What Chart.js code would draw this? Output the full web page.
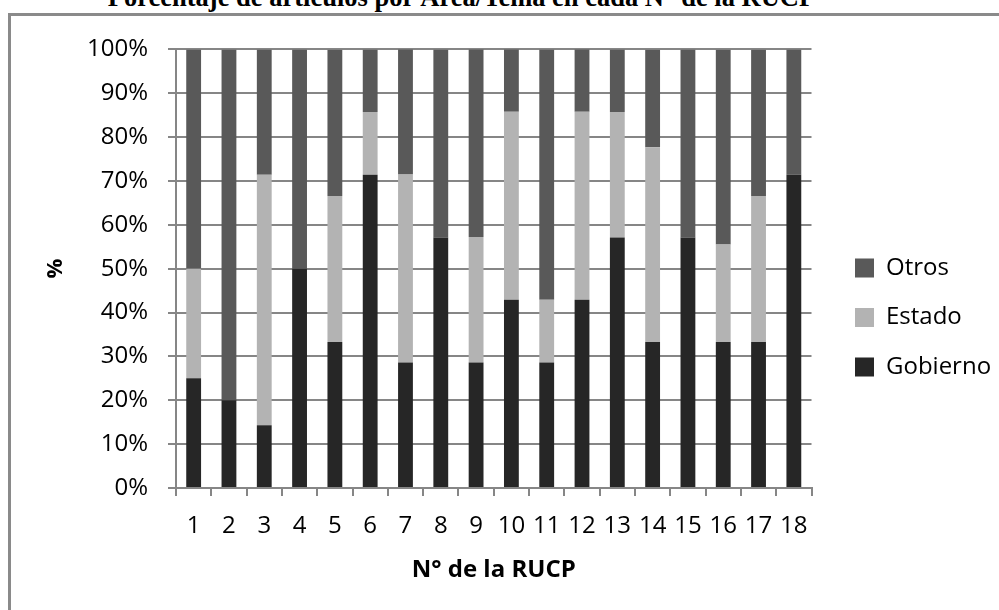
<!DOCTYPE html>
<html>
<head>
<meta charset="utf-8">
<script src="https://cdn.jsdelivr.net/npm/chart.js@4/dist/chart.umd.min.js"></script>
<style>
  html, body { margin: 0; padding: 0; background: #fff; overflow: hidden; }
  body { width: 999px; height: 610px; position: relative; }
  .title {
    position: absolute; left: -38.5px; width: 1000px; top: -15.7px;
    text-align: center; font: bold 26.5px "Liberation Serif", serif; line-height: 26.5px;
    color: #000; white-space: nowrap;
  }
  .frame {
    position: absolute; left: 8px; top: 13px; width: 1100px; height: 700px;
    border-left: 3px solid #8a8a8a; border-top: 3px solid #8a8a8a;
  }
  .wrap { position: absolute; left: 12px; top: 15px; width: 987px; height: 595px; }
</style>
</head>
<body>
<div class="frame"></div>
<div class="title">Porcentaje de artículos por Área/Tema en cada N° de la RUCP</div>
<div class="wrap"><canvas id="grafico"></canvas></div>
<script>
// N° de la RUCP
const rucp = ["1", "2", "3", "4", "5", "6", "7", "8", "9", "10", "11", "12", "13", "14", "15", "16", "17", "18"];

// porcentaje de articulos en cada area
const gobierno = [25, 20, 14.3, 50, 33.3, 71.4, 28.6, 57.1, 28.6, 42.9, 28.6, 42.9, 57.1, 33.3, 57.1, 33.3, 33.3, 71.4];
const estado   = [25, 0, 57.1, 0, 33.3, 14.3, 42.9, 0, 28.6, 42.9, 14.3, 42.9, 28.6, 44.4, 0, 22.2, 33.3, 0];
const otros    = [50, 80, 28.6, 50, 33.3, 14.3, 28.6, 42.9, 42.9, 14.3, 57.1, 14.3, 14.3, 22.2, 42.9, 44.4, 33.3, 28.6];

const gris = "#868686";
const fuente = "'Open Sans', sans-serif";

new Chart(document.getElementById("grafico"), {
  type: "bar",
  data: {
    labels: rucp,
    datasets: [
      { label: "Gobierno", data: gobierno, backgroundColor: "#262626" },
      { label: "Estado", data: estado, backgroundColor: "#b3b3b3" },
      { label: "Otros", data: otros, backgroundColor: "#595959" }
    ]
  },
  options: {
    responsive: true,
    maintainAspectRatio: false,
    animation: false,
    barPercentage: 0.42,
    categoryPercentage: 1,
    layout: { padding: { top: 30, right: 6, bottom: 20, left: 0 } },
    plugins: {
      tooltip: { enabled: false },
      legend: {
        position: "right",
        reverse: true,
        labels: {
          boxWidth: 19, boxHeight: 19, padding: 25.5,
          color: "#000", font: { family: fuente, size: 24 }
        }
      }
    },
    scales: {
      x: {
        stacked: true,
        grid: { drawOnChartArea: false, drawTicks: true, tickLength: 8, offset: true, color: gris, lineWidth: 2 },
        border: { color: gris, width: 2 },
        ticks: { color: "#000", padding: 16, font: { family: fuente, size: 24 }, maxRotation: 0, autoSkip: false },
        title: { display: true, text: "N° de la RUCP", color: "#000", font: { family: fuente, size: 24, weight: "bold" }, padding: { top: 0, bottom: 5 } },
        afterFit: s => { s.height = 102; }
      },
      y: {
        stacked: true,
        min: 0, max: 100,
        grid: { color: gris, lineWidth: 2, tickLength: 8 },
        border: { color: gris, width: 2 },
        ticks: { stepSize: 10, color: "#000", padding: 20, font: { family: fuente, size: 24 }, callback: v => v + "%" },
        title: { display: true, text: "%", color: "#000", font: { family: fuente, size: 22, weight: "bold" }, padding: { top: 31, bottom: 0 } },
        afterFit: s => { s.width = 164; }
      },
      hueco: {
        type: "linear", position: "right",
        grid: { display: false }, border: { display: false }, ticks: { display: false },
        afterFit: s => { s.width = 18; }
      }
    }
  }
});
</script>
</body>
</html>
